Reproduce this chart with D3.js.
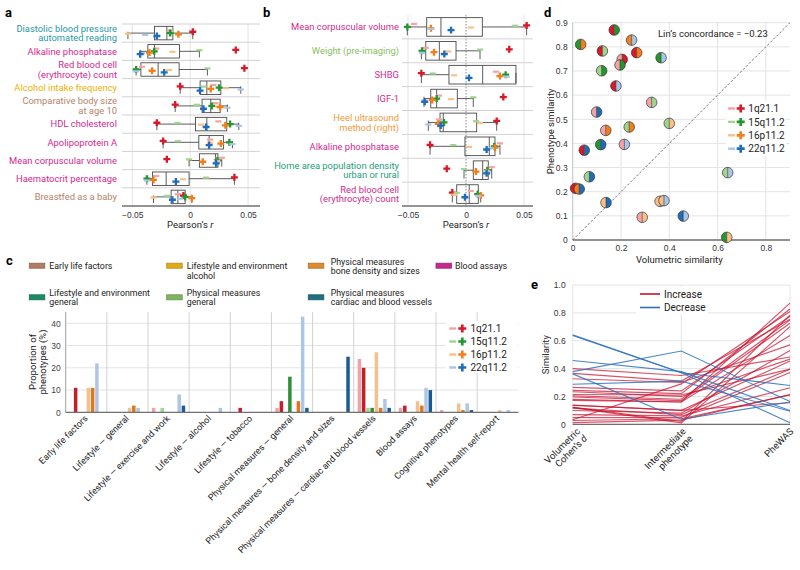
<!DOCTYPE html>
<html><head><meta charset="utf-8">
<script src="https://cdn.jsdelivr.net/npm/d3@7/dist/d3.min.js"></script>
<style>
html,body{margin:0;padding:0;background:#fff;}
svg{display:block;font-family:Roboto,"Noto Sans",sans-serif;}
</style></head><body>
<svg id="fig" width="800" height="570"></svg>
<script>
// ================= DATA =================
const seriesKeys = ["1q21.1 del","1q21.1 dup","15q11.2 del","15q11.2 dup","16p11.2 del","16p11.2 dup","22q11.2 del","22q11.2 dup"];
const cnvNames = ["1q21.1","15q11.2","16p11.2","22q11.2"];

// Panel a : Pearson's r per series (order of seriesKeys)
const aLabels = [["Diastolic blood pressure","automated reading"],["Alkaline phosphatase"],["Red blood cell","(erythrocyte) count"],["Alcohol intake frequency"],["Comparative body size","at age 10"],["HDL cholesterol"],["Apolipoprotein A"],["Mean corpuscular volume"],["Haematocrit percentage"],["Breastfed as a baby"]];
const aLabelCategory = ["cardiac","blood","blood","alcohol","early","blood","blood","blood","blood","early"];
const aValues = [
  [-0.0172, 0.0023,-0.0166,-0.0172,-0.0537,-0.0101,-0.0388,-0.0287],
  [-0.0293, 0.0394, 0.0080,-0.0310,-0.0153,-0.0351,-0.0416,-0.0431],
  [-0.0416, 0.0468, 0.0149,-0.0466,-0.0181,-0.0328,-0.0466,-0.0224],
  [ 0.0201,-0.0086, 0.0115, 0.0250, 0.0308, 0.0178, 0.0437, 0.0086],
  [ 0.0218,-0.0129, 0.0058, 0.0187, 0.0244, 0.0259, 0.0322, 0.0115],
  [ 0.0244,-0.0287,-0.0109, 0.0345, 0.0095, 0.0304, 0.0420, 0.0138],
  [ 0.0172,-0.0233,-0.0106, 0.0339, 0.0172, 0.0265, 0.0365, 0.0164],
  [ 0.0273,-0.0201,-0.0009, 0.0235, 0.0233, 0.0109, 0.0230, 0.0224],
  [-0.0293, 0.0382, 0.0138,-0.0373,-0.0063,-0.0316,-0.0373,-0.0123],
  [-0.0106,-0.0058,-0.0201,-0.0043,-0.0316, 0.0015,-0.0086,-0.0153]
];
// [whisker low, q1, median, q3, whisker high]
const aBoxes = [
  [-0.0537,-0.0308,-0.0201,-0.0149, 0.0023],
  [-0.0431,-0.0365,-0.0308,-0.0092, 0.0080],
  [-0.0466,-0.0425,-0.0276,-0.0095, 0.0149],
  [-0.0086, 0.0086, 0.0144, 0.0265, 0.0437],
  [-0.0129, 0.0103, 0.0178, 0.0259, 0.0322],
  [-0.0287, 0.0046, 0.0144, 0.0316, 0.0420],
  [-0.0233, 0.0075, 0.0164, 0.0287, 0.0365],
  [-0.0009, 0.0080, 0.0220, 0.0240, 0.0273],
  [-0.0373,-0.0325,-0.0207,-0.0009, 0.0382],
  [-0.0316,-0.0164,-0.0106,-0.0043, 0.0015]
];

// Panel b
const bLabels = [["Mean corpuscular volume"],["Weight (pre-imaging)"],["SHBG"],["IGF-1"],["Heel ultrasound","method (right)"],["Alkaline phosphatase"],["Home area population density","urban or rural"],["Red blood cell","(erythrocyte) count"]];
const bLabelCategory = ["blood","physGen","blood","blood","bone","blood","lifeGen","blood"];
const bValues = [
  [-0.0448, 0.0523, 0.0422,-0.0506, 0.0041,-0.0302,-0.0302,-0.0129],
  [-0.0347, 0.0373, 0.0121,-0.0379,-0.0153,-0.0276,-0.0379,-0.0187],
  [ 0.0259,-0.0385,-0.0287, 0.0342,-0.0103, 0.0293, 0.0351, 0.0026],
  [-0.0233, 0.0322, 0.0063,-0.0253,-0.0129,-0.0291,-0.0362,-0.0356],
  [-0.0233, 0.0265, 0.0086,-0.0190, 0.0121,-0.0239,-0.0325,-0.0218],
  [ 0.0293,-0.0310,-0.0109, 0.0244, 0.0026, 0.0250, 0.0213, 0.0178],
  [ 0.0222,-0.0166,-0.0017, 0.0184, 0.0178, 0.0086, 0.0184, 0.0178],
  [ 0.0041,-0.0118,-0.0080, 0.0101,-0.0101, 0.0127, 0.0106,-0.0009]
];
const bBoxes = [
  [-0.0506,-0.0339,-0.0216, 0.0141, 0.0523],
  [-0.0385,-0.0347,-0.0230,-0.0086, 0.0121],
  [-0.0385,-0.0147, 0.0144, 0.0431, 0.0431],
  [-0.0362,-0.0304,-0.0253,-0.0075, 0.0063],
  [-0.0325,-0.0224,-0.0196, 0.0092, 0.0265],
  [-0.0310,-0.0009, 0.0201, 0.0250, 0.0293],
  [-0.0017, 0.0063, 0.0144, 0.0192, 0.0222],
  [-0.0118,-0.0080, 0.0028, 0.0106, 0.0127]
];
const rTicks = [-0.05, 0, 0.05];

// Panel c : proportion of phenotypes (%) per series, per category
const cCategories = ["Early life factors","Lifestyle — general","Lifestyle — exercise and work","Lifestyle — alcohol","Lifestyle — tobacco","Physical measures — general","Physical measures — bone density and sizes","Physical measures — cardiac and blood vessels","Blood assays","Cognitive phenotypes","Mental health self-report"];
const cValues = [
  [0, 0, 2, 0, 0, 2, 0,24, 2, 1, 0],   // 1q21.1 del
  [11,0, 0, 0, 2, 5, 0,20, 3, 0, 0],   // 1q21.1 dup
  [0, 0, 2, 0, 0, 0, 0, 2, 0, 0, 0],   // 15q11.2 del
  [0, 0, 0, 0, 0,16, 0, 2, 0, 0, 0],   // 15q11.2 dup
  [11,2, 0, 0, 0, 0, 0,27, 5, 4, 1],   // 16p11.2 del
  [11,3, 0, 0, 0, 5, 0, 2, 3, 1, 0],   // 16p11.2 dup
  [22,2, 8, 2, 0,43, 0, 6,11, 4, 1],   // 22q11.2 del
  [0, 0, 3, 0, 0, 2,25, 2,10, 1, 0]    // 22q11.2 dup
];
const cTicks = [0,10,20,30,40];
const cLegendKeys = ["early","alcohol","bone","blood","lifeGen","physGen","cardiac"];
const cLegendLabels = [["Early life factors"],["Lifestyle and environment","alcohol"],["Physical measures","bone density and sizes"],["Blood assays"],["Lifestyle and environment","general"],["Physical measures","general"],["Physical measures","cardiac and blood vessels"]];

// Panel d : pairs of CNVs
const dVolumetric = [0.172,0.033,0.244,0.123,0.265,0.366,0.205,0.196,0.120,0.179,0.327,0.099,0.400,0.234,0.137,0.116,0.214,0.048,0.069,0.012,0.027,0.642,0.138,0.362,0.378,0.288,0.458,0.638];
const dPhenotype  = [0.870,0.810,0.828,0.783,0.776,0.755,0.748,0.725,0.701,0.638,0.570,0.530,0.483,0.468,0.454,0.395,0.396,0.372,0.262,0.214,0.211,0.279,0.155,0.160,0.163,0.094,0.099,0.011];
const dLeft  = ["1q21.1 dup","15q11.2 dup","16p11.2 dup","1q21.1 dup","1q21.1 dup","15q11.2 dup","1q21.1 del","1q21.1 del","15q11.2 del","1q21.1 dup","1q21.1 del","1q21.1 del","15q11.2 del","15q11.2 del","1q21.1 del","15q11.2 dup","1q21.1 del","1q21.1 dup","15q11.2 del","1q21.1 dup","16p11.2 dup","15q11.2 del","16p11.2 del","16p11.2 del","16p11.2 del","1q21.1 del","22q11.2 dup","15q11.2 dup"];
const dRight = ["15q11.2 dup","16p11.2 dup","22q11.2 del","15q11.2 del","16p11.2 dup","22q11.2 del","1q21.1 dup","15q11.2 dup","15q11.2 dup","22q11.2 del","15q11.2 del","22q11.2 dup","16p11.2 del","16p11.2 dup","16p11.2 dup","22q11.2 dup","22q11.2 del","22q11.2 dup","22q11.2 dup","16p11.2 dup","22q11.2 dup","22q11.2 del","22q11.2 dup","22q11.2 del","22q11.2 del","16p11.2 del","22q11.2 del","16p11.2 del"];
const dTicksX = [0,0.2,0.4,0.6,0.8];
const dTicksY = [0,0.1,0.2,0.3,0.4,0.5,0.6,0.7,0.8,0.9];

// Panel e : intermediate phenotype similarity for each pair (same order as panel d)
const eIntermediate = [0.16,0.29,0.22,0.02,0.24,0.31,0.18,0.17,0.01,0.16,0.30,0.08,0.35,0.20,0.10,0.07,0.21,0.05,0.06,0.03,0.04,0.37,0.10,0.036,0.526,0.31,0.378,0.37];
const eAxes = ["vol","inter","phewas"];
const eTicks = [0,0.2,0.4,0.6,0.8,1.0];

// ================= STYLE =================
const colors = {"1q21.1 del":"#f4a3a6","1q21.1 dup":"#d8192a","15q11.2 del":"#9fd68c","15q11.2 dup":"#24962f",
  "16p11.2 del":"#fbc088","16p11.2 dup":"#f47d1c","22q11.2 del":"#a9c6e8","22q11.2 dup":"#1f6db8"};
const barColors = {"1q21.1 del":"#f2a2a4","1q21.1 dup":"#c21f2b","15q11.2 del":"#a2d690","15q11.2 dup":"#2e8f38",
  "16p11.2 del":"#f6c08e","16p11.2 dup":"#e2761d","22q11.2 del":"#adc6e6","22q11.2 dup":"#1b5b93"};
const catText = {early:"#b5846a",alcohol:"#efb000",bone:"#f29a3a",blood:"#d4298f",lifeGen:"#22a077",physGen:"#86c160",cardiac:"#2898a6"};
const catSwatch = {early:"#b07e63",alcohol:"#e2ab14",bone:"#de8a2e",blood:"#c42a8c",lifeGen:"#1d8a66",physGen:"#7db65e",cardiac:"#1f7080"};
const GRID = "#e4e4e4", SEP = "#d2d2d2", AXIS = "#707070", TXT = "#222";

const svg = d3.select("#fig");
svg.append("rect").attr("width",800).attr("height",570).attr("fill","#fff");

function marker(g, key, x, y, s=1){
  if (key.endsWith("del")){
    g.append("rect").attr("x",x-3.1*s).attr("y",y-1.1*s).attr("width",6.2*s).attr("height",2.2*s).attr("fill",colors[key]);
  } else {
    g.append("path").attr("d",d3.symbol(d3.symbolCross, 27*s*s)()).attr("transform",`translate(${x},${y})`).attr("fill",colors[key]);
  }
}
function panelTag(t,x,y){ svg.append("text").attr("x",x).attr("y",y).attr("font-size",13).attr("font-weight","bold").attr("fill","#000").text(t); }

// ================= PANELS a & b =================
const yJit = [-3,-1.5,-1.2,0,0.6,1.4,2,3.2];
function boxPanel(o){
  const g = svg.append("g");
  const x = d3.scaleLinear().domain(o.domain).range([o.left,o.right]);
  const rows = d3.scaleBand().domain(d3.range(o.values.length)).range([o.top,o.bottom]);
  rTicks.forEach(t=>{
    g.append("line").attr("x1",x(t)).attr("x2",x(t)).attr("y1",o.top).attr("y2",o.bottom)
      .attr("stroke", (t===0 && o.dottedZero)?"#8a8a8a":GRID).attr("stroke-width",1)
      .attr("stroke-dasharray",(t===0 && o.dottedZero)?"1.5,1.5":null);
  });
  d3.range(o.values.length).forEach(i=>{
    if(i>0 || o.topLine) g.append("line").attr("x1",o.left).attr("x2",o.right).attr("y1",rows(i)).attr("y2",rows(i)).attr("stroke",SEP);
  });
  const ax = g.append("g").attr("transform",`translate(0,${o.bottom})`)
    .call(d3.axisBottom(x).tickValues(rTicks).tickSize(0).tickPadding(6).tickFormat(d=>d===0?"0":d3.format(".2f")(d).replace("-","−")));
  ax.select(".domain").remove();
  ax.selectAll("text").attr("font-size",8.5).attr("fill","#333").attr("font-family",null);
  g.append("line").attr("x1",o.left).attr("x2",o.right).attr("y1",o.bottom).attr("y2",o.bottom).attr("stroke",AXIS).attr("stroke-width",1.4);
  const tt = g.append("text").attr("x",x(0)).attr("y",o.bottom+22).attr("text-anchor","middle").attr("font-size",9.5).attr("fill",TXT);
  tt.append("tspan").text("Pearson’s ");
  tt.append("tspan").attr("font-style","italic").text("r");
  o.values.forEach((vals,i)=>{
    const cy = rows(i)+rows.bandwidth()/2;
    const bh = rows.bandwidth()*o.boxFrac;
    const b = o.boxes[i];
    const st = "#4a4a4a";
    g.append("line").attr("x1",x(b[0])).attr("x2",x(b[1])).attr("y1",cy).attr("y2",cy).attr("stroke",st).attr("stroke-width",0.9);
    g.append("line").attr("x1",x(b[3])).attr("x2",x(b[4])).attr("y1",cy).attr("y2",cy).attr("stroke",st).attr("stroke-width",0.9);
    [b[0],b[4]].forEach(v=>g.append("line").attr("x1",x(v)).attr("x2",x(v)).attr("y1",cy-bh*0.1).attr("y2",cy+bh*0.45).attr("stroke",st).attr("stroke-width",0.9));
    g.append("rect").attr("x",x(b[1])).attr("y",cy-bh/2).attr("width",x(b[3])-x(b[1])).attr("height",bh)
      .attr("fill","none").attr("stroke",st).attr("stroke-width",0.9);
    g.append("line").attr("x1",x(b[2])).attr("x2",x(b[2])).attr("y1",cy-bh/2).attr("y2",cy+bh/2).attr("stroke",st).attr("stroke-width",0.9);
    vals.forEach((v,k)=>marker(g, seriesKeys[k], x(v), cy+yJit[k]*o.jitScale));
    const lines = o.labels[i];
    const lh = 9.6;
    const t = g.append("text").attr("text-anchor","end").attr("font-size",9.4).attr("fill",catText[o.cats[i]]);
    lines.forEach((l,j)=>t.append("tspan").attr("x",o.labelX).attr("y",cy+3.3+(j-(lines.length-1)/2)*lh).text(l));
  });
}
boxPanel({values:aValues,boxes:aBoxes,labels:aLabels,cats:aLabelCategory,domain:[-0.0588,0.0603],left:122,right:260,top:24,bottom:206,labelX:117,boxFrac:0.74,jitScale:0.9,topLine:true,dottedZero:false});
boxPanel({values:bValues,boxes:bBoxes,labels:bLabels,cats:bLabelCategory,domain:[-0.0552,0.0578],left:402,right:533,top:15,bottom:206,labelX:399,boxFrac:0.78,jitScale:1.0,topLine:false,dottedZero:true});
panelTag("a",5,17); panelTag("b",263,17);

// ================= PANEL c =================
(function(){
  const g = svg.append("g");
  const L=65.7, R=518.3, T=312.2, B=412.3;
  const x = d3.scaleBand().domain(cCategories).range([L,R]).padding(0);
  const xi = d3.scaleBand().domain(seriesKeys).range([0,x.bandwidth()]).paddingInner(0.18).paddingOuter(0.93);
  const y = d3.scaleLinear().domain([0,45]).range([B,T]);
  cTicks.filter(t=>t>0).forEach(t=>g.append("line").attr("x1",L).attr("x2",R).attr("y1",y(t)).attr("y2",y(t)).attr("stroke",GRID));
  cCategories.forEach((c,i)=>{ if(i>0) g.append("line").attr("x1",x(c)).attr("x2",x(c)).attr("y1",T).attr("y2",B).attr("stroke",SEP); });
  seriesKeys.forEach((k,si)=>{
    g.selectAll(null).data(cCategories.map((c,ci)=>({c,v:cValues[si][ci]})).filter(d=>d.v>0)).enter().append("rect")
      .attr("x",d=>x(d.c)+xi(k)).attr("width",xi.bandwidth()).attr("y",d=>y(d.v)).attr("height",d=>B-y(d.v))
      .attr("fill",barColors[k]);
  });
  const ay = g.append("g").attr("transform",`translate(${L},0)`).call(d3.axisLeft(y).tickValues(cTicks).tickSize(0).tickPadding(5));
  ay.select(".domain").remove();
  ay.selectAll("text").attr("font-size",8.5).attr("fill","#444").attr("font-family",null);
  g.append("line").attr("x1",L).attr("x2",L).attr("y1",T).attr("y2",B).attr("stroke","#a0a0a0");
  g.append("line").attr("x1",L).attr("x2",R).attr("y1",B).attr("y2",B).attr("stroke",AXIS).attr("stroke-width",1.3);
  const yt = g.append("text").attr("transform","translate(37,362) rotate(-90)").attr("text-anchor","middle").attr("font-size",9.5).attr("fill",TXT);
  yt.append("tspan").attr("x",0).attr("y",-1).text("Proportion of");
  yt.append("tspan").attr("x",0).attr("y",9).text("phenotypes (%)");
  cCategories.forEach(c=>{
    g.append("text").attr("transform",`translate(${x(c)+x.bandwidth()/2+2},419) rotate(-45)`).attr("text-anchor","end")
      .attr("font-size",9).attr("fill",TXT).text(c);
  });
  g.append("rect").attr("x",446).attr("y",321).attr("width",71).attr("height",52).attr("fill","#fff");
  cnvNames.forEach((n,i)=>{
    const yy = 328.5+i*13;
    marker(g, n+" del", 452.7, yy, 1.1);
    marker(g, n+" dup", 462.3, yy, 1.15);
    g.append("text").attr("x",470.5).attr("y",yy+3.6).attr("font-size",10).attr("fill",TXT).text(n);
  });
  const lp = [[29.3,265.7,49.3,269],[166.7,265.7,186.7,269],[308.3,265.7,330.7,264.8],[436,265.7,455,269],[29.3,297.3,49.3,295.5],[166.7,297.3,186.7,295.5],[308.3,297.3,330.7,295.5]];
  cLegendKeys.forEach((k,i)=>{
    const p = lp[i];
    g.append("rect").attr("x",p[0]).attr("y",p[1]-2.5).attr("width",15.5).attr("height",5).attr("fill",catSwatch[k])
      .attr("stroke",d3.color(catSwatch[k]).darker(0.6)).attr("stroke-width",0.8);
    const t = g.append("text").attr("font-size",8.8).attr("fill",TXT);
    cLegendLabels[i].forEach((l,j)=>t.append("tspan").attr("x",p[2]).attr("y",p[3]+j*9.6).text(l));
  });
})();
panelTag("c",6,265);

// ================= PANEL d =================
(function(){
  const g = svg.append("g");
  const L=572.7, R=790, T=22.7, B=240;
  const x = d3.scaleLinear().domain([0,0.9]).range([L,R]);
  const y = d3.scaleLinear().domain([0,0.9]).range([B,T]);
  dTicksY.forEach(t=>g.append("line").attr("x1",L).attr("x2",R).attr("y1",y(t)).attr("y2",y(t)).attr("stroke",GRID));
  dTicksX.forEach(t=>g.append("line").attr("x1",x(t)).attr("x2",x(t)).attr("y1",T).attr("y2",B).attr("stroke",GRID));
  g.append("line").attr("x1",L).attr("x2",L).attr("y1",T).attr("y2",B).attr("stroke","#c8c8c8");
  g.append("line").attr("x1",L).attr("x2",R).attr("y1",B).attr("y2",B).attr("stroke",AXIS).attr("stroke-width",1.3);
  g.append("line").attr("x1",x(0)).attr("y1",y(0)).attr("x2",x(0.9)).attr("y2",y(0.9)).attr("stroke","#555").attr("stroke-width",0.8).attr("stroke-dasharray","2.5,1.8");
  const ax = g.append("g").attr("transform",`translate(0,${B})`).call(d3.axisBottom(x).tickValues(dTicksX).tickSize(0).tickPadding(5).tickFormat(d=>d===0?"0":d3.format(".1f")(d)));
  ax.select(".domain").remove(); ax.selectAll("text").attr("font-size",8.5).attr("fill","#333").attr("font-family",null);
  const ay = g.append("g").attr("transform",`translate(${L},0)`).call(d3.axisLeft(y).tickValues(dTicksY).tickSize(0).tickPadding(5).tickFormat(d=>d===0?"0":d3.format(".1f")(d)));
  ay.select(".domain").remove(); ay.selectAll("text").attr("font-size",8.5).attr("fill","#333").attr("font-family",null);
  g.append("text").attr("x",(L+R)/2-2).attr("y",263).attr("text-anchor","middle").attr("font-size",9.5).attr("fill",TXT).text("Volumetric similarity");
  g.append("text").attr("transform",`translate(554,${(T+B)/2}) rotate(-90)`).attr("text-anchor","middle").attr("font-size",9.5).attr("fill",TXT).text("Phenotype similarity");
  g.append("text").attr("x",658).attr("y",36.5).attr("font-size",9.5).attr("fill",TXT).text("Lin’s concordance = −0.23");
  g.append("rect").attr("x",726).attr("y",101).attr("width",60).attr("height",55).attr("fill","#fff");
  cnvNames.forEach((n,i)=>{
    const yy = 108.5+i*13.4;
    marker(g, n+" del", 731.5, yy, 1.1);
    marker(g, n+" dup", 740.7, yy, 1.15);
    g.append("text").attr("x",748.3).attr("y",yy+3.6).attr("font-size",10).attr("fill",TXT).text(n);
  });
  const r = 5.3;
  const arcL = d3.arc()({innerRadius:0,outerRadius:r,startAngle:Math.PI,endAngle:2*Math.PI});
  const arcR = d3.arc()({innerRadius:0,outerRadius:r,startAngle:0,endAngle:Math.PI});
  dVolumetric.forEach((v,i)=>{
    const pg = g.append("g").attr("transform",`translate(${x(v)},${y(dPhenotype[i])})`);
    pg.append("path").attr("d",arcL).attr("fill",colors[dLeft[i]]);
    pg.append("path").attr("d",arcR).attr("fill",colors[dRight[i]]);
    pg.append("line").attr("x1",0).attr("x2",0).attr("y1",-r).attr("y2",r).attr("stroke","#333").attr("stroke-width",0.6);
    pg.append("circle").attr("r",r).attr("fill","none").attr("stroke","#333").attr("stroke-width",0.7);
  });
})();
panelTag("d",544,17);

// ================= PANEL e =================
(function(){
  const g = svg.append("g");
  const L=572.7, R=790, T=285, B=424.3;
  const x = d3.scalePoint().domain(eAxes).range([L,R]);
  const y = d3.scaleLinear().domain([0,1]).range([B,T]);
  eTicks.forEach(t=>g.append("line").attr("x1",L).attr("x2",R).attr("y1",y(t)).attr("y2",y(t)).attr("stroke",GRID));
  eAxes.forEach(a=>g.append("line").attr("x1",x(a)).attr("x2",x(a)).attr("y1",T).attr("y2",B).attr("stroke",GRID));
  g.append("line").attr("x1",L).attr("x2",R).attr("y1",B).attr("y2",B).attr("stroke",AXIS).attr("stroke-width",1.3);
  const ay = g.append("g").attr("transform",`translate(${L},0)`).call(d3.axisLeft(y).tickValues(eTicks).tickSize(0).tickPadding(7).tickFormat(d=>d===0?"0":d3.format(".1f")(d)));
  ay.select(".domain").remove(); ay.selectAll("text").attr("font-size",8.5).attr("fill","#333").attr("font-family",null);
  g.append("text").attr("transform",`translate(549,${(T+B)/2}) rotate(-90)`).attr("text-anchor","middle").attr("font-size",9.5).attr("fill",TXT).text("Similarity");
  const line = d3.line().x(d=>x(d[0])).y(d=>y(d[1]));
  const rows = dVolumetric.map((v,i)=>({pts:[["vol",v],["inter",eIntermediate[i]],["phewas",dPhenotype[i]]],inc:dPhenotype[i]>v}));
  rows.filter(d=>d.inc).forEach(d=>g.append("path").attr("d",line(d.pts)).attr("fill","none").attr("stroke","#c8102e").attr("stroke-opacity",0.72).attr("stroke-width",1.15));
  rows.filter(d=>!d.inc).forEach(d=>g.append("path").attr("d",line(d.pts)).attr("fill","none").attr("stroke","#2a73bd").attr("stroke-opacity",0.85).attr("stroke-width",1.1));
  g.append("rect").attr("x",636).attr("y",286.5).attr("width",72).attr("height",28).attr("fill","#fff");
  [["Increase","#c8102e",294],["Decrease","#2a73bd",307.5]].forEach(l=>{
    g.append("line").attr("x1",640).attr("x2",660).attr("y1",l[2]).attr("y2",l[2]).attr("stroke",l[1]).attr("stroke-width",1.6);
    g.append("text").attr("x",664).attr("y",l[2]+3.5).attr("font-size",10).attr("fill",TXT).text(l[0]);
  });
  const xl = g.append("text").attr("transform",`translate(${x("vol")+8},432) rotate(-45)`).attr("text-anchor","end").attr("font-size",9.5).attr("fill",TXT);
  xl.append("tspan").attr("x",0).attr("y",0).text("Volumetric");
  const t2 = xl.append("tspan").attr("x",0).attr("y",10);
  t2.append("tspan").text("Cohen’s ");
  t2.append("tspan").attr("font-style","italic").text("d");
  const xm = g.append("text").attr("transform",`translate(${x("inter")+5},432) rotate(-45)`).attr("text-anchor","end").attr("font-size",9.5).attr("fill",TXT);
  xm.append("tspan").attr("x",0).attr("y",0).text("Intermediate");
  xm.append("tspan").attr("x",0).attr("y",10).text("phenotype");
  g.append("text").attr("transform",`translate(${x("phewas")+4},432) rotate(-45)`).attr("text-anchor","end").attr("font-size",9.5).attr("fill",TXT).text("PheWAS");
})();
panelTag("e",531,289);
</script></body></html>
